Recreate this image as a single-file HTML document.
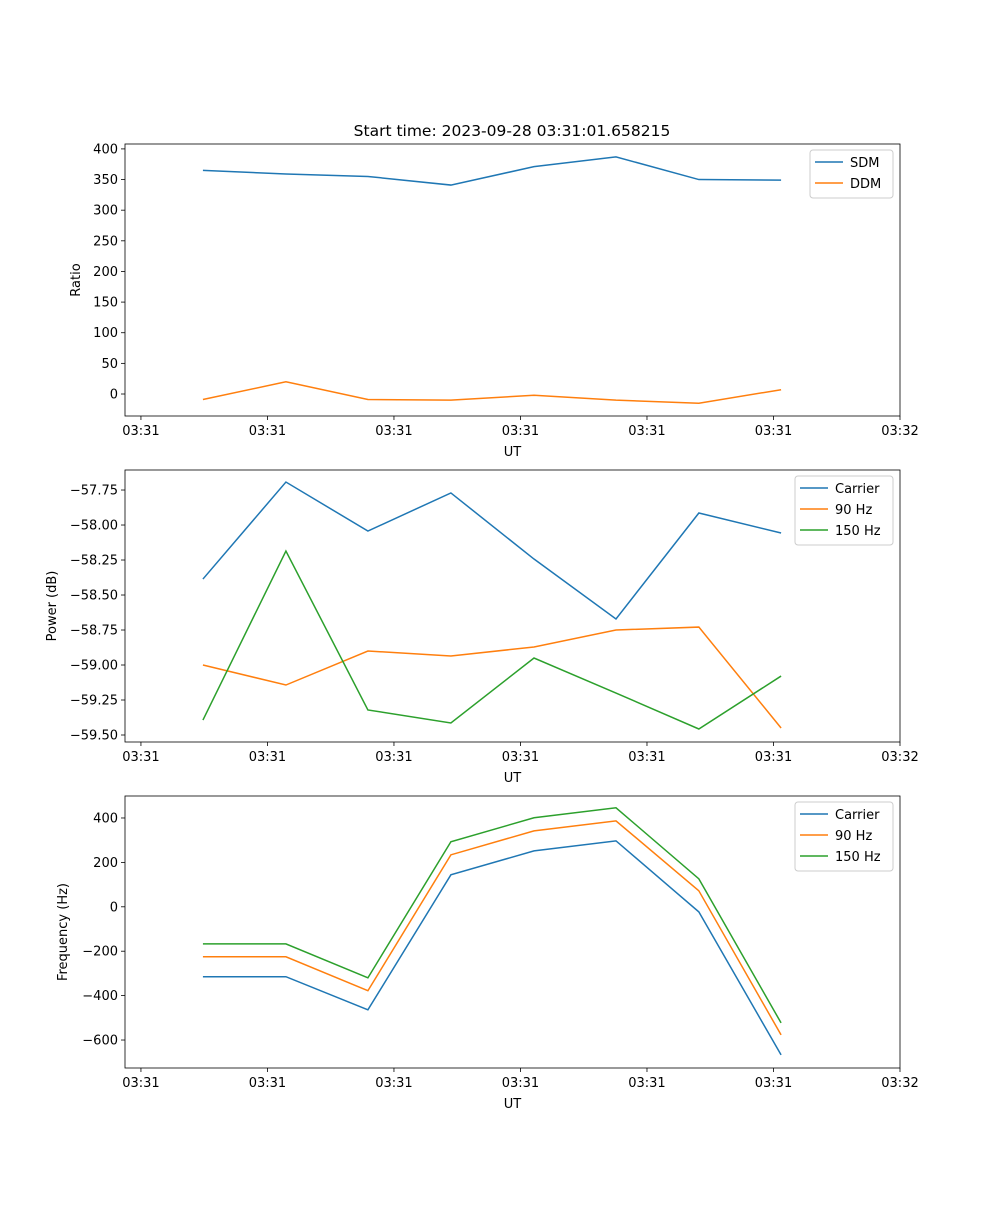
<!DOCTYPE html>
<html><head><meta charset="utf-8"><style>
body{margin:0;background:#fff;}
svg text{font-family:"DejaVu Sans","Liberation Sans",sans-serif;font-size:13px;fill:#000;}
</style></head><body>
<svg id="fig" width="1000" height="1200" xmlns="http://www.w3.org/2000/svg">
<rect width="1000" height="1200" fill="#fff"/>
<text x="512" y="136" text-anchor="middle" style="font-size:15.5px">Start time: 2023-09-28 03:31:01.658215</text>
</svg>
<script>
// time in seconds after 03:31:00
const times = [4.9, 11.46, 17.94, 24.5, 31.07, 37.55, 44.1, 50.6];
const xTickVals = [0, 10, 20, 30, 40, 50, 60];
const xTickLabels = ["03:31","03:31","03:31","03:31","03:31","03:31","03:32"];
const sdm = [365, 359, 355, 341, 371, 387, 350, 349];
const ddm = [-9, 20, -9, -10, -2, -10, -15, 7];
const powCarrier = [-58.386, -57.693, -58.043, -57.771, -58.243, -58.671, -57.914, -58.057];
const pow90 = [-59.0, -59.143, -58.9, -58.936, -58.871, -58.75, -58.729, -59.45];
const pow150 = [-59.393, -58.186, -59.321, -59.414, -58.95, -59.2, -59.457, -59.079];
const freqCarrier = [-315, -315, -464, 144, 252, 297, -23, -667];
const freq90 = [-225, -225, -378, 234, 342, 387, 72, -577];
const freq150 = [-167, -167, -320, 293, 401, 446, 126, -523];
const ratioTicks = [0,50,100,150,200,250,300,350,400];
const powTicks = [-57.75,-58.0,-58.25,-58.5,-58.75,-59.0,-59.25,-59.5];
const freqTicks = [400,200,0,-200,-400,-600];

const NS="http://www.w3.org/2000/svg";
const svg=document.getElementById('fig');
function el(tag,attrs,parent){const e=document.createElementNS(NS,tag);for(const k in attrs)e.setAttribute(k,attrs[k]);(parent||svg).appendChild(e);return e;}
const L=125,R=900,xmin=-1.26,xmax=60;
const xs=v=>L+(v-xmin)/(xmax-xmin)*(R-L);
const C=['#1f77b4','#ff7f0e','#2ca02c'];

function panel(name,top,bot,ymin,ymax,ticks,fmt,ylabel,series,names,legend){
  const g=el('g',{});
  
  
  const ys=v=>bot-(v-ymin)/(ymax-ymin)*(bot-top);
  series.forEach((s,i)=>{
    const p=el('polyline',{points:s.map((v,j)=>xs(times[j])+','+ys(v)).join(' '),fill:'none',stroke:C[i],'stroke-width':1.5},g);
    
    
  });
  const fr=el('rect',{x:L,y:top,width:R-L,height:bot-top,fill:'none',stroke:'#000','stroke-width':0.8},g);
  
  
  xTickVals.forEach((v,i)=>{
    const x=xs(v);
    el('line',{x1:x,y1:bot,x2:x,y2:bot+4,stroke:'#000','stroke-width':0.8},g);
    const t=el('text',{x:x,y:bot+19,'text-anchor':'middle'},g);t.textContent=xTickLabels[i];
    
    
  });
  const xl=el('text',{x:(L+R)/2,y:bot+40,'text-anchor':'middle'},g);xl.textContent='UT';
  
  
  ticks.forEach(v=>{
    const y=ys(v);
    el('line',{x1:L-4,y1:y,x2:L,y2:y,stroke:'#000','stroke-width':0.8},g);
    const t=el('text',{x:L-7,y:y+4.5,'text-anchor':'end'},g);t.textContent=fmt(v);
    
    
  });
  const cy=(top+bot)/2;
  const yl=el('text',{x:legend.ylx,y:cy,'text-anchor':'middle',transform:'rotate(-90 '+legend.ylx+' '+cy+')'},g);yl.textContent=ylabel;
  
  
  const lg=el('g',{},g);
  
  
  el('rect',{x:legend.x,y:top+6,width:R-7-legend.x,height:names.length*21+6,rx:3,fill:'#fff','fill-opacity':0.8,stroke:'#ccc'},lg);
  names.forEach((n,i)=>{
    const y=top+18+i*21;
    el('line',{x1:legend.x+5,y1:y,x2:legend.x+33,y2:y,stroke:C[i],'stroke-width':1.5},lg);
    const t=el('text',{x:legend.x+40,y:y+5},lg);t.textContent=n;
    
    
  });
}
panel('ratio',144,416,-35.9,408,ratioTicks,v=>String(v),'Ratio',[sdm,ddm],['SDM','DDM'],{x:810,ylx:80});
panel('power',470,742,-59.55,-57.607,powTicks,v=>'\u2212'+Math.abs(v).toFixed(2),'Power (dB)',[powCarrier,pow90,pow150],['Carrier','90 Hz','150 Hz'],{x:795,ylx:56});
panel('frequency',796,1068,-726,499,freqTicks,v=>(v<0?'\u2212':'')+Math.abs(v),'Frequency (Hz)',[freqCarrier,freq90,freq150],['Carrier','90 Hz','150 Hz'],{x:795,ylx:67});
</script>
</body></html>
